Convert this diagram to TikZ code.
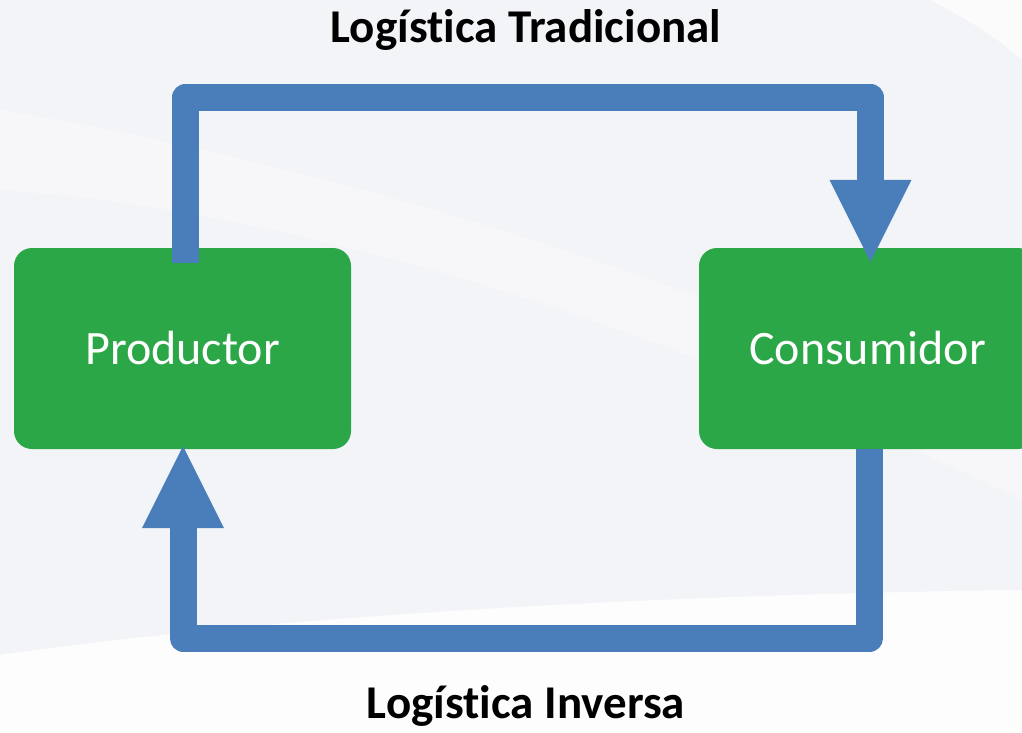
\documentclass[tikz,border=0pt]{standalone}
\usepackage{fontspec}
\setmainfont{Carlito}[Ligatures=CommonOff]
\usetikzlibrary{arrows.meta,calc}
\definecolor{bg}{RGB}{243,244,247}
\definecolor{boxgreen}{RGB}{44,167,72}
\definecolor{flowblue}{RGB}{74,126,187}
\begin{document}
\begin{tikzpicture}[x=1pt,y=-1pt,
  box/.style={fill=boxgreen, rounded corners=18pt, minimum width=337pt, minimum height=201pt,
    inner sep=0pt, text=white, font=\fontsize{48}{52}\selectfont},
  flow/.style={draw=flowblue, line width=27pt, line join=round,
    -{Triangle[width=82pt,length=82pt,line width=0pt]}},
  title/.style={font=\fontsize{47}{50}\selectfont\bfseries, anchor=base, text=black}]
% background
\fill[bg] (0,0) rectangle (1022,732);
\useasboundingbox (0,0) rectangle (1022,732);
\clip (0,0) rectangle (1022,732);
\fill[white,opacity=0.35] (0,110) .. controls (300,160) and (650,260) .. (1022,430)
  -- (1022,500) .. controls (650,320) and (300,210) .. (0,190) -- cycle;
\fill[white,opacity=0.7] (930,0) .. controls (970,20) and (1000,40) .. (1022,60) -- (1022,0) -- cycle;
\fill[white,opacity=0.85] (0,732) -- (0,655) .. controls (300,612) and (700,594) .. (1022,590)
  -- (1022,732) -- cycle;
% nodes
\node[box] (prod) at (182.5,348.5) {Productor};
\node[box] (cons) at (867.5,348.5) {Consumidor};
\node[title] (trad) at (526,42) {Logística Tradicional};
\node[title] (inv) at (526,718) {Logística Inversa};
% connectors
\draw[flow] ($(prod.north)+(3,15)$) |- ($(cons.north)+(3,-150.5)$) -- ($(cons.north)+(3,14)$);
\draw[flow] ($(cons.south)+(2,0)$) |- ($(prod.south)+(0.5,189)$) -- ($(prod.south)+(0.5,-3)$);
\end{tikzpicture}
\end{document}
